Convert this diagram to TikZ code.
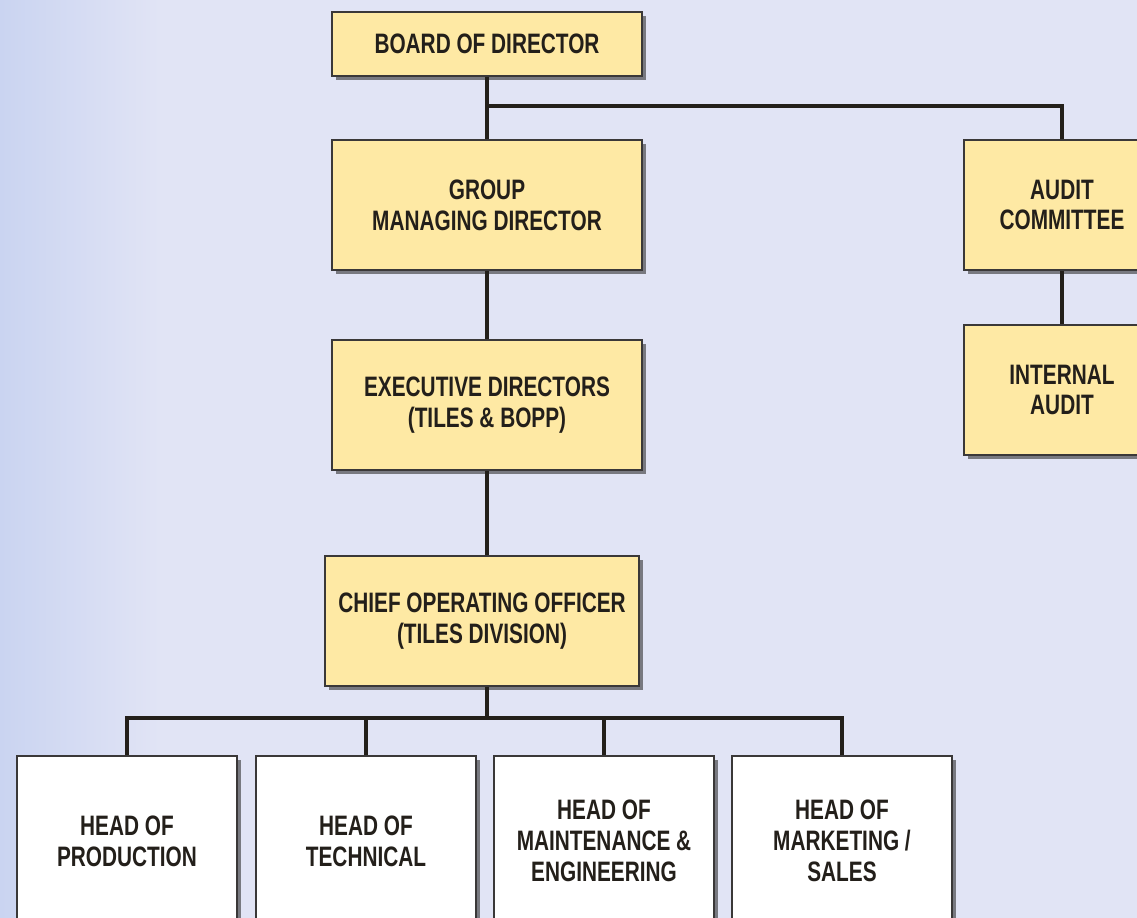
\documentclass[tikz,border=0pt]{standalone}
\usepackage{fontspec}
\setmainfont{Liberation Sans}[FakeStretch=0.74]
\usetikzlibrary{shadows}
\definecolor{bg}{HTML}{E1E4F5}
\definecolor{bgl}{HTML}{CAD4F1}
\definecolor{boxy}{HTML}{FEE9A4}
\definecolor{edge}{HTML}{3A3838}
\definecolor{ink}{HTML}{231F1A}
\tikzset{
  orgbox/.style={draw=edge, line width=1.2pt, fill=boxy, align=center,
    font=\bfseries\fontsize{16}{17.5}\selectfont, text=ink, inner sep=0pt,
    drop shadow={shadow xshift=0.08cm, shadow yshift=-0.08cm, opacity=0.6, fill=black!80}},
  whitebox/.style={orgbox, fill=white},
  conn/.style={draw=ink, line width=2pt}
}
\begin{document}
\begin{tikzpicture}[x=0.02cm, y=-0.02cm]
\useasboundingbox (0,0) rectangle (1137,918);
\clip (0,0) rectangle (1137,918);
\fill[bg] (0,0) rectangle (1137,918);
\shade[left color=bgl, right color=bg] (0,0) rectangle (160,918);
% nodes
\node[orgbox, minimum width=6.2cm, minimum height=1.28cm] (board) at (487,44) {BOARD OF DIRECTOR};
\node[orgbox, minimum width=6.2cm, minimum height=2.6cm] (gmd) at (487,205) {GROUP\\MANAGING DIRECTOR};
\node[orgbox, minimum width=6.2cm, minimum height=2.6cm] (exec) at (487,405) {EXECUTIVE DIRECTORS\\(TILES \& BOPP)};
\node[orgbox, minimum width=6.28cm, minimum height=2.6cm] (coo) at (482,621) {CHIEF OPERATING OFFICER\\(TILES DIVISION)};
\node[orgbox, minimum width=3.92cm, minimum height=2.6cm] (audit) at (1062,205) {AUDIT\\COMMITTEE};
\node[orgbox, minimum width=3.92cm, minimum height=2.6cm] (ia) at (1062,390) {INTERNAL\\AUDIT};
\node[whitebox, minimum width=4.4cm, minimum height=3.4cm] (prod) at (127,841) {HEAD OF\\PRODUCTION};
\node[whitebox, minimum width=4.4cm, minimum height=3.4cm] (tech) at (366,841) {HEAD OF\\TECHNICAL};
\node[whitebox, minimum width=4.4cm, minimum height=3.4cm] (maint) at (604,841) {HEAD OF\\MAINTENANCE \&\\ENGINEERING};
\node[whitebox, minimum width=4.4cm, minimum height=3.4cm] (mkt) at (842,841) {HEAD OF\\MARKETING /\\SALES};
% junctions
\coordinate (j1) at (487,106);
\coordinate (j2) at (487,718);
% connectors
\draw[conn] (board.south) -- (gmd.north);
\draw[conn] (j1) -| (audit.north);
\draw[conn] (audit.south) -- (ia.north);
\draw[conn] (gmd.south) -- (exec.north);
\draw[conn] (exec.south) -- (coo.north -| exec.south);
\draw[conn] (coo.south -| j2) -- (j2);
\draw[conn] (prod.north) |- (j2) -| (mkt.north);
\draw[conn] (tech.north) -- (tech.north |- j2);
\draw[conn] (maint.north) -- (maint.north |- j2);
\end{tikzpicture}
\end{document}
